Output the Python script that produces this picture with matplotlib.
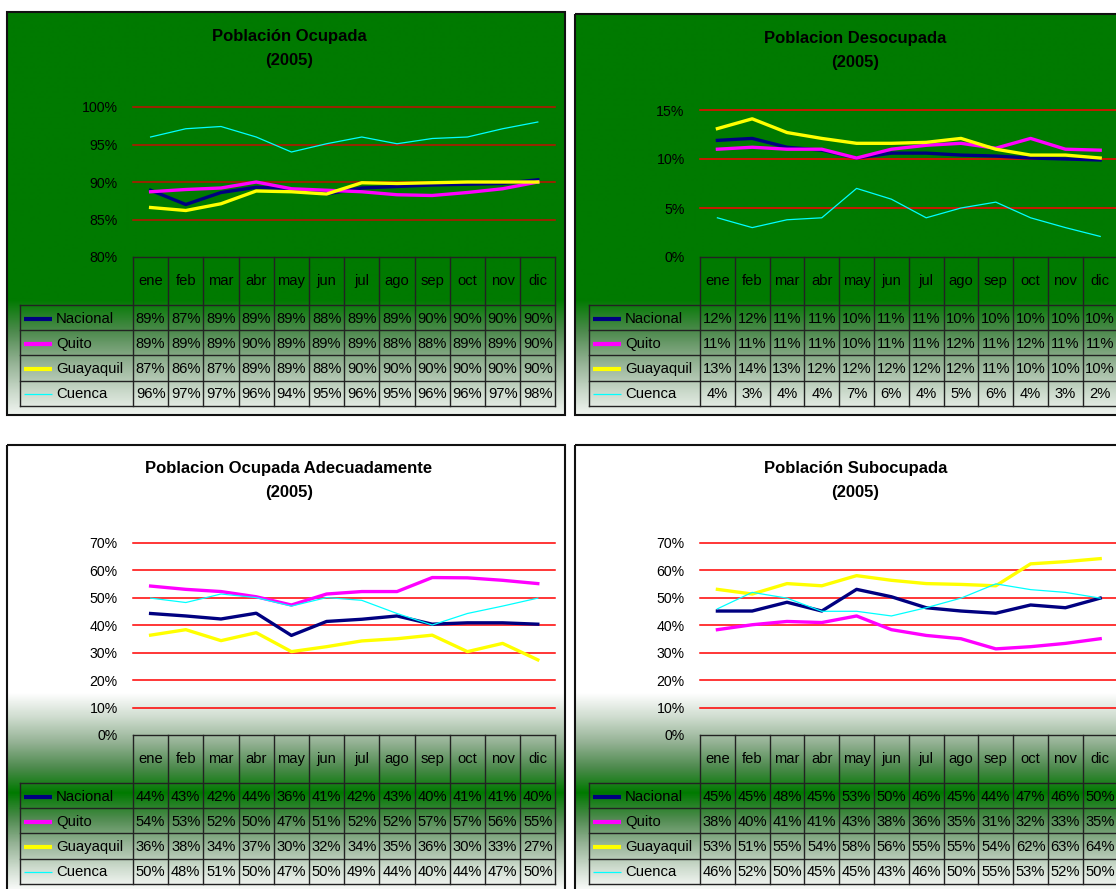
import matplotlib.pyplot as plt
import numpy as np
from matplotlib.colors import LinearSegmentedColormap
from matplotlib.patches import Rectangle
from matplotlib.ticker import FuncFormatter

plt.rcParams['font.family'] = ['Liberation Sans', 'DejaVu Sans']

W, H = 1116, 889

months = ['ene', 'feb', 'mar', 'abr', 'may', 'jun', 'jul', 'ago', 'sep', 'oct', 'nov', 'dic']
series_names = ['Nacional', 'Quito', 'Guayaquil', 'Cuenca']
series_colors = ['#000080', '#ff00ff', '#ffff00', '#00ffff']
series_widths = [2.4, 2.4, 2.4, 0.9]

# Población Ocupada (%)
ocupada_nacional = [88.9, 87.0, 88.6, 89.3, 89.1, 88.4, 89.2, 89.4, 89.6, 89.7, 89.8, 90.3]
ocupada_quito = [88.7, 89.0, 89.2, 90.0, 89.1, 88.9, 88.7, 88.3, 88.2, 88.6, 89.1, 90.0]
ocupada_guayaquil = [86.6, 86.2, 87.1, 88.8, 88.7, 88.4, 89.9, 89.8, 89.9, 90.0, 90.0, 90.0]
ocupada_cuenca = [96.0, 97.1, 97.4, 96.0, 94.0, 95.1, 96.0, 95.1, 95.8, 96.0, 97.1, 98.0]

# Poblacion Desocupada (%)
desocupada_nacional = [11.9, 12.1, 11.2, 10.9, 10.1, 10.6, 10.6, 10.4, 10.3, 10.1, 10.0, 9.9]
desocupada_quito = [11.0, 11.2, 11.0, 11.0, 10.1, 11.0, 11.4, 11.6, 11.1, 12.1, 11.0, 10.9]
desocupada_guayaquil = [13.1, 14.1, 12.7, 12.1, 11.6, 11.6, 11.7, 12.1, 11.0, 10.4, 10.4, 10.1]
desocupada_cuenca = [4.0, 3.0, 3.8, 4.0, 7.0, 5.9, 4.0, 5.0, 5.6, 4.0, 3.0, 2.1]

# Poblacion Ocupada Adecuadamente (%)
adecuada_nacional = [44.3, 43.4, 42.3, 44.4, 36.3, 41.4, 42.2, 43.4, 40.4, 40.9, 40.9, 40.4]
adecuada_quito = [54.3, 53.1, 52.3, 50.4, 47.4, 51.4, 52.3, 52.3, 57.4, 57.3, 56.4, 55.2]
adecuada_guayaquil = [36.4, 38.4, 34.4, 37.3, 30.4, 32.2, 34.3, 35.1, 36.4, 30.4, 33.4, 27.4]
adecuada_cuenca = [49.9, 48.3, 51.4, 50.1, 47.0, 50.1, 49.1, 44.3, 40.1, 44.3, 47.0, 49.9]

# Población Subocupada (%)
subocupada_nacional = [45.2, 45.2, 48.4, 45.2, 53.1, 50.4, 46.4, 45.2, 44.4, 47.4, 46.4, 49.9]
subocupada_quito = [38.4, 40.2, 41.4, 41.0, 43.4, 38.4, 36.3, 35.1, 31.4, 32.2, 33.4, 35.1]
subocupada_guayaquil = [53.1, 51.4, 55.2, 54.4, 58.1, 56.4, 55.2, 54.9, 54.4, 62.4, 63.2, 64.3]
subocupada_cuenca = [46.0, 52.0, 49.9, 45.1, 45.1, 43.4, 46.4, 49.9, 55.1, 53.0, 52.0, 49.9]

fade = LinearSegmentedColormap.from_list(
    'fade', ['#007a00', '#4d8a4d', '#93b193', '#cddbcd', '#ffffff'])

fig = plt.figure(figsize=(W / 100, H / 100), dpi=100)
bg = fig.add_axes([0, 0, 1, 1])
bg.axis('off')

RH = 25.2   # table row height (px)


def panel(box, title, ymin, ymax, step, y_top, y_bot, col0, cw, leg_x, rows_top,
          grad, data, grid_color):
    x0, y0, x1, y1 = box
    yy = np.arange(y0, y1 + 1, dtype=float)
    if grad == 'top':
        t = np.clip((yy - 300) / 125, 0, 1)
    else:
        t = np.clip(np.abs(yy - 793) / 100, 0, 1)
    bg.imshow(t[:, None], cmap=fade, vmin=0, vmax=1, extent=(x0, x1, y1, y0),
              aspect='auto', interpolation='bilinear', zorder=0)
    bg.add_patch(Rectangle((x0, y0), x1 - x0, y1 - y0, fill=False,
                           ec='#111111', lw=1.5, zorder=3))

    cx = (x0 + min(x1, 1130)) / 2 + 3
    bg.text(cx, y0 + 24, title, ha='center', va='center', fontsize=12, fontweight='bold')
    bg.text(cx, y0 + 48, '(2005)', ha='center', va='center', fontsize=12, fontweight='bold')

    # plot area
    ax = fig.add_axes([col0 / W, 1 - y_bot / H, 12 * cw / W, (y_bot - y_top) / H])
    ax.patch.set_visible(False)
    for s in ax.spines.values():
        s.set_visible(False)
    ax.set_xlim(-0.5, 11.5)
    ax.set_ylim(ymin, ymax)
    ticks = np.arange(ymin, ymax + step / 2, step)
    ax.set_yticks(ticks)
    ax.set_xticks([])
    ax.yaxis.set_major_formatter(FuncFormatter(lambda v, p: '%d%%' % round(v)))
    ax.tick_params(axis='y', length=0, pad=11, labelsize=10.2)
    for v in ticks[1:]:
        ax.axhline(v, color=grid_color, lw=1.1, zorder=1, clip_on=False)
    for vals, c, lw in zip(data, series_colors, series_widths):
        ax.plot(range(len(months)), vals, color=c, lw=lw, zorder=2)

    # data table
    col_end = col0 + 12 * cw
    t_bot = rows_top + 4 * RH
    lc = '#222222'
    bg.plot([col0, col_end], [y_bot, y_bot], color=lc, lw=1, zorder=2)
    for i in range(5):
        yv = rows_top + i * RH
        bg.plot([leg_x, col_end], [yv, yv], color=lc, lw=1, zorder=2)
    for k in range(13):
        xv = col0 + k * cw
        bg.plot([xv, xv], [y_bot, t_bot], color=lc, lw=1, zorder=2)
    bg.plot([leg_x, leg_x], [rows_top, t_bot], color=lc, lw=1, zorder=2)
    for k, m in enumerate(months):
        bg.text(col0 + (k + 0.5) * cw, (y_bot + rows_top) / 2, m,
                ha='center', va='center', fontsize=10.6)
    for i, (name, vals, c, lw) in enumerate(zip(series_names, data, series_colors, series_widths)):
        yc = rows_top + (i + 0.5) * RH + 1
        bg.plot([leg_x + 4, leg_x + 32], [yc, yc], color=c, lw=lw + 0.6 if lw > 1 else lw,
                solid_capstyle='butt', zorder=2)
        bg.text(leg_x + 36, yc, name, ha='left', va='center', fontsize=10.7)
        for k, v in enumerate(vals):
            bg.text(col0 + (k + 0.5) * cw, yc, f'{v:.0f}%',
                    ha='center', va='center', fontsize=10.6)


panel((7, 12, 565, 415), 'Población Ocupada', 80, 100, 5, 107, 257, 133, 35.2, 20, 305,
      'top', [ocupada_nacional, ocupada_quito, ocupada_guayaquil, ocupada_cuenca], '#c01000')
panel((575, 14, 1130, 415), 'Poblacion Desocupada', 0, 15, 5, 110, 257, 700, 34.8, 589, 305,
      'top', [desocupada_nacional, desocupada_quito, desocupada_guayaquil, desocupada_cuenca], '#ff0000')
panel((7, 445, 565, 900), 'Poblacion Ocupada Adecuadamente', 0, 70, 10, 543, 735, 133, 35.2, 20, 783,
      'bottom', [adecuada_nacional, adecuada_quito, adecuada_guayaquil, adecuada_cuenca], '#ff0000')
panel((575, 445, 1130, 900), 'Población Subocupada', 0, 70, 10, 543, 735, 700, 34.8, 589, 783,
      'bottom', [subocupada_nacional, subocupada_quito, subocupada_guayaquil, subocupada_cuenca], '#ff0000')

bg.set_xlim(0, W)
bg.set_ylim(H, 0)

fig.savefig('out.png', dpi=100, facecolor='white')
